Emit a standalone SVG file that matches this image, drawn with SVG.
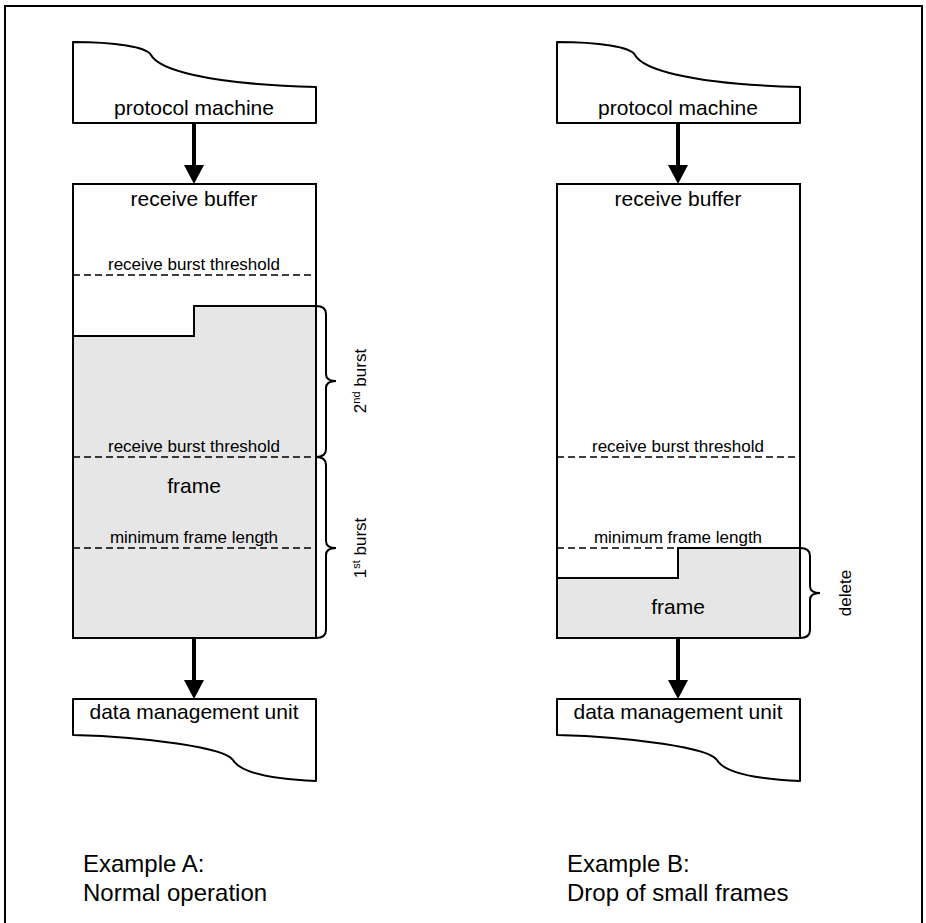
<svg xmlns="http://www.w3.org/2000/svg" width="926" height="923" viewBox="0 0 926 923">
<style>
text{font-family:"Liberation Sans",Arial,sans-serif;fill:#000}
.lg{font-size:21px;text-anchor:middle}
.sm{font-size:17px;text-anchor:middle}
.cap{font-size:24px}
.box{fill:#fff;stroke:#000;stroke-width:2}
.shape{fill:#fff;stroke:#000;stroke-width:2;stroke-linejoin:round}
.gray{fill:#e6e6e6;stroke:none}
.step{fill:none;stroke:#000;stroke-width:2}
.dash{stroke:#000;stroke-width:1.5;stroke-dasharray:7 4;fill:none}
.brace{fill:none;stroke:#000;stroke-width:2}
.shaft{stroke:#000;stroke-width:4}
</style>
<defs>
<path id="ah" d="M-10,0 L10,0 L0,19 Z" fill="#000"/>
</defs>
<rect x="0" y="0" width="926" height="923" fill="#fff"/>
<path d="M5,930 L5,6 L922,6 L922,930" fill="none" stroke="#000" stroke-width="2"/>

<!-- Example A -->
<g id="pmA">
<path class="shape" d="M73,123 L73,42 C115,42 147,47 151,55 C158,68 200,84 316,87 L316,123 Z"/>
<text class="lg" x="194" y="115">protocol machine</text>
</g>
<g id="bufA">
<rect class="box" x="73" y="184" width="243" height="454"/>
<path class="gray" d="M73,336 L194,336 L194,306 L316,306 L316,638 L73,638 Z"/>
<path class="step" d="M73,336 L194,336 L194,306 L316,306"/>
<rect x="73" y="184" width="243" height="454" fill="none" stroke="#000" stroke-width="2"/>
<text class="lg" x="194" y="206">receive buffer</text>
<line class="dash" x1="73" y1="275" x2="316" y2="275"/>
<text class="sm" x="194" y="270">receive burst threshold</text>
<line class="dash" x1="73" y1="457" x2="316" y2="457"/>
<text class="sm" x="194" y="452">receive burst threshold</text>
<text class="lg" x="194" y="493">frame</text>
<line class="dash" x1="73" y1="548" x2="316" y2="548"/>
<text class="sm" x="194" y="543">minimum frame length</text>
</g>
<g id="dmuA">
<path class="shape" d="M73,699 L316,699 L316,781 C270,779 240,772 233,760 C225,748 150,737 73,735 Z"/>
<text class="lg" x="194" y="719">data management unit</text>
</g>
<g id="braceA2">
<path class="brace" d="M316,306 Q326,306 326,314 L326,374 Q326,381 336,381 Q326,381 326,388 L326,449 Q326,457 316,457"/>
<text class="sm" transform="translate(366,381) rotate(-90)">2<tspan font-size="11" dy="-6">nd</tspan><tspan dy="6"> burst</tspan></text>
</g>
<g id="braceA1">
<path class="brace" d="M316,457 Q326,457 326,465 L326,541 Q326,548 336,548 Q326,548 326,555 L326,630 Q326,638 316,638"/>
<text class="sm" transform="translate(366,548) rotate(-90)">1<tspan font-size="11" dy="-6">st</tspan><tspan dy="6"> burst</tspan></text>
</g>
<text id="capA" class="cap" x="83" y="872">Example A:</text>
<text class="cap" x="83" y="901">Normal operation</text>

<!-- Example B -->
<g id="pmB">
<path class="shape" d="M557,123 L557,42 C599,42 631,47 635,55 C642,68 684,84 800,87 L800,123 Z"/>
<text class="lg" x="678" y="115">protocol machine</text>
</g>
<g id="bufB">
<rect class="box" x="557" y="184" width="243" height="454"/>
<path class="gray" d="M557,578 L678,578 L678,548 L800,548 L800,638 L557,638 Z"/>
<text class="lg" x="678" y="206">receive buffer</text>
<line class="dash" x1="557" y1="457" x2="800" y2="457"/>
<text class="sm" x="678" y="452">receive burst threshold</text>
<line class="dash" x1="557" y1="548" x2="678" y2="548"/>
<text class="sm" x="678" y="543">minimum frame length</text>
<path class="step" d="M557,578 L678,578 L678,548 L800,548"/>
<rect x="557" y="184" width="243" height="454" fill="none" stroke="#000" stroke-width="2"/>
<text class="lg" x="678" y="614">frame</text>
</g>
<g id="dmuB">
<path class="shape" d="M557,699 L800,699 L800,781 C754,779 724,772 717,760 C709,748 634,737 557,735 Z"/>
<text class="lg" x="678" y="719">data management unit</text>
</g>
<g id="braceB">
<path class="brace" d="M800,548 Q810,548 810,556 L810,586 Q810,593 820,593 Q810,593 810,600 L810,630 Q810,638 800,638"/>
<text class="sm" transform="translate(851,593) rotate(-90)">delete</text>
</g>
<text id="capB" class="cap" x="567" y="872">Example B:</text>
<text class="cap" x="567" y="901">Drop of small frames</text>

<g id="connectors">
<line class="shaft" x1="194" y1="124" x2="194" y2="168"/>
<use href="#ah" x="194" y="165"/>
<line class="shaft" x1="194" y1="639" x2="194" y2="682"/>
<use href="#ah" x="194" y="680"/>
<line class="shaft" x1="678" y1="124" x2="678" y2="168"/>
<use href="#ah" x="678" y="165"/>
<line class="shaft" x1="678" y1="639" x2="678" y2="682"/>
<use href="#ah" x="678" y="680"/>
</g>
</svg>
